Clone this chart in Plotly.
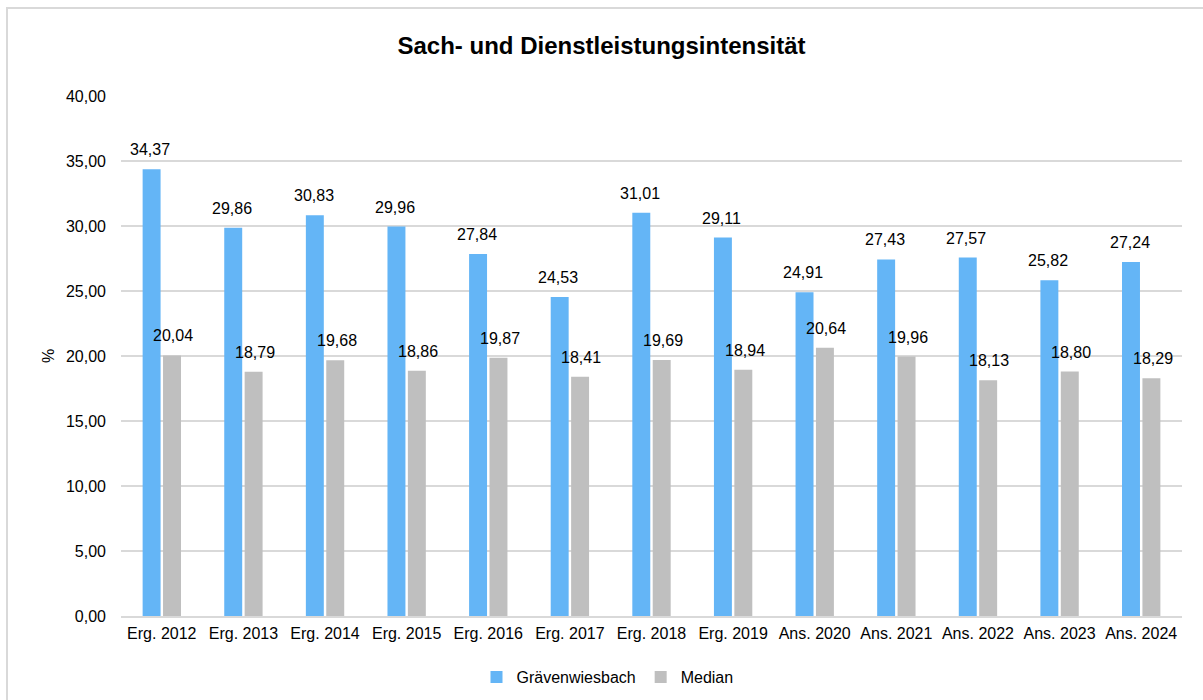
import plotly.graph_objects as go

categories = ["Erg. 2012", "Erg. 2013", "Erg. 2014", "Erg. 2015", "Erg. 2016", "Erg. 2017",
              "Erg. 2018", "Erg. 2019", "Ans. 2020", "Ans. 2021", "Ans. 2022", "Ans. 2023",
              "Ans. 2024"]
graevenwiesbach = [34.37, 29.86, 30.83, 29.96, 27.84, 24.53, 31.01, 29.11, 24.91, 27.43,
                   27.57, 25.82, 27.24]
median = [20.04, 18.79, 19.68, 18.86, 19.87, 18.41, 19.69, 18.94, 20.64, 19.96, 18.13,
          18.80, 18.29]
y_ticks = [0, 5, 10, 15, 20, 25, 30, 35, 40]

BLUE = "#64B5F6"
GRAY = "#BFBFBF"
FONT = "Liberation Sans, Arial, sans-serif"
FS = 16


def fmt(v):
    return f"{v:.2f}".replace(".", ",")


fig = go.Figure()
fig.add_trace(go.Bar(name="Grävenwiesbach", x=categories, y=graevenwiesbach,
                     marker=dict(color=BLUE, line=dict(width=0))))
fig.add_trace(go.Bar(name="Median", x=categories, y=median,
                     marker=dict(color=GRAY, line=dict(width=0))))

annotations = []
for c, v in zip(categories, graevenwiesbach):
    annotations.append(dict(x=c, y=v, xref="x", yref="y", text=fmt(v), showarrow=False,
                            xshift=-11.5, yshift=9, yanchor="bottom",
                            font=dict(family=FONT, size=FS, color="#000000")))
for c, v in zip(categories, median):
    annotations.append(dict(x=c, y=v, xref="x", yref="y", text=fmt(v), showarrow=False,
                            xshift=11.5, yshift=9, yanchor="bottom",
                            font=dict(family=FONT, size=FS, color="#000000")))

fig.update_layout(
    width=1203, height=700,
    margin=dict(l=121, r=21, t=96, b=84),
    paper_bgcolor="white", plot_bgcolor="white",
    separators=",.",
    font=dict(family=FONT, size=FS, color="#000000"),
    title=dict(text="<b>Sach- und Dienstleistungsintensität</b>",
               font=dict(family=FONT, size=24, color="#000000"),
               x=0.5, xanchor="center", y=1 - 46 / 700, yanchor="middle"),
    barmode="group", bargap=0.5, bargroupgap=0.12,
    showlegend=True,
    legend=dict(orientation="h", x=0.5 - 44 / 1061, xanchor="center", xref="paper",
                y=1 - 677 / 700, yanchor="middle", yref="container",
                font=dict(family=FONT, size=FS, color="#000000"), traceorder="normal",
                itemwidth=30),
    annotations=annotations,
    shapes=[dict(type="rect", xref="paper", yref="paper",
                 x0=(7 - 121) / 1061, x1=1.1, y0=-0.3, y1=(616 - 8) / 520,
                 line=dict(color="#D9D9D9", width=2), fillcolor="rgba(0,0,0,0)", layer="below")],
)
fig.update_xaxes(showgrid=False, showline=True, linecolor="#D9D9D9", linewidth=1.5,
                 ticks="", ticklabelstandoff=2, automargin=False,
                 tickfont=dict(family=FONT, size=FS, color="#000000"))
fig.update_yaxes(range=[0, 40], tickvals=y_ticks, tickformat=".2f",
                 showgrid=True, gridcolor="#D9D9D9", gridwidth=1.5, automargin=False,
                 zeroline=False, showline=False, ticks="", ticklabelstandoff=14,
                 tickfont=dict(family=FONT, size=FS, color="#000000"),
                 title=dict(text="%", standoff=7,
                            font=dict(family=FONT, size=FS, color="#000000")))

fig.write_html("out.html", post_script="document.body.style.margin='0';",
               config={"displayModeBar": False})
